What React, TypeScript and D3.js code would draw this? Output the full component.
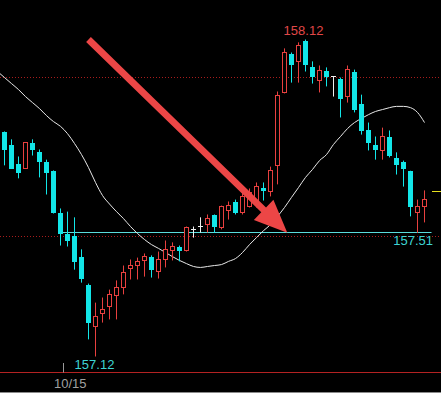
import React, { useEffect } from "react";
import * as d3 from "d3";

// OHLC series, one entry per bar (left to right)
const opens = [
  157.827, 157.786, 157.726, 157.713, 157.795, 157.764, 157.735, 157.704, 157.574, 157.505,
  157.499, 157.435, 157.347, 157.215, 157.256, 157.278, 157.312, 157.338, 157.398, 157.407,
  157.423, 157.435, 157.388, 157.426, 157.454, 157.467, 157.454, 157.521, 157.530, 157.536,
  157.565, 157.527, 157.581, 157.606, 157.574, 157.593, 157.603, 157.653, 157.641, 157.723,
  157.953, 158.073, 158.051, 158.114, 158.032, 157.991, 158.022, 158.003, 157.994, 157.940,
  158.016, 157.915, 157.836, 157.786, 157.770, 157.814, 157.745, 157.735, 157.704, 157.574,
  157.593,
];
const highs = [
  157.830, 157.805, 157.751, 157.795, 157.805, 157.773, 157.741, 157.707, 157.587, 157.577,
  157.559, 157.458, 157.350, 157.290, 157.306, 157.331, 157.360, 157.407, 157.426, 157.432,
  157.445, 157.439, 157.451, 157.486, 157.480, 157.470, 157.530, 157.530, 157.559, 157.568,
  157.568, 157.596, 157.609, 157.615, 157.637, 157.650, 157.669, 157.669, 157.719, 157.956,
  158.092, 158.079, 158.111, 158.120, 158.051, 158.038, 158.032, 158.003, 158.000, 158.038,
  158.025, 157.946, 157.858, 157.814, 157.842, 157.833, 157.764, 157.738, 157.706, 157.615,
  157.644,
];
const lows = [
  157.723, 157.712, 157.682, 157.713, 157.754, 157.685, 157.631, 157.571, 157.470, 157.467,
  157.394, 157.353, 157.174, 157.120, 157.227, 157.237, 157.237, 157.316, 157.363, 157.363,
  157.372, 157.369, 157.366, 157.401, 157.423, 157.420, 157.451, 157.495, 157.511, 157.511,
  157.511, 157.521, 157.552, 157.568, 157.568, 157.590, 157.590, 157.612, 157.625, 157.663,
  157.950, 157.984, 157.984, 158.019, 157.981, 157.953, 157.972, 157.940, 157.874, 157.921,
  157.890, 157.820, 157.770, 157.741, 157.741, 157.748, 157.694, 157.656, 157.562, 157.510,
  157.543,
];
const closes = [
  157.770, 157.713, 157.700, 157.795, 157.770, 157.732, 157.700, 157.574, 157.505, 157.483,
  157.417, 157.363, 157.227, 157.246, 157.268, 157.316, 157.338, 157.385, 157.407, 157.420,
  157.435, 157.394, 157.426, 157.458, 157.467, 157.454, 157.527, 157.521, 157.530, 157.555,
  157.527, 157.593, 157.596, 157.574, 157.625, 157.637, 157.656, 157.641, 157.707, 157.943,
  158.079, 158.038, 158.101, 158.038, 158.003, 158.022, 158.003, 158.003, 157.931, 158.025,
  157.899, 157.830, 157.792, 157.770, 157.814, 157.751, 157.723, 157.710, 157.593, 157.593,
  157.615,
];

// Moving average, starting one bar before the first visible bar
const maStart = -1;
const maValues = [
  158.019, 158.000, 157.981, 157.962, 157.940, 157.921, 157.902, 157.880, 157.861, 157.846,
  157.823, 157.792, 157.757, 157.716, 157.669, 157.628, 157.601, 157.577, 157.555, 157.530,
  157.508, 157.489, 157.473, 157.461, 157.448, 157.435, 157.423, 157.413, 157.404, 157.401,
  157.404, 157.407, 157.410, 157.420, 157.429, 157.448, 157.473, 157.495, 157.517, 157.536,
  157.562, 157.590, 157.622, 157.653, 157.685, 157.710, 157.738, 157.757, 157.789, 157.814,
  157.839, 157.858, 157.871, 157.883, 157.893, 157.899, 157.905, 157.909, 157.909, 157.905,
  157.890, 157.858,
];

// Reference levels and annotations
const gridLevels = [158.0, 157.5];
const supportLevel = 157.51;
const lastPriceMark = 157.641;
const dateLabels = ["10/15"];
const dateBoundaries = [8.5];
const arrowFrom = { i: 12, p: 158.12 };
const arrowTo = { i: 40.4, p: 157.51 };

const W = 441;
const H = 393;
const UP = "#e8403f";
const DOWN = "#12e6e8";
const DOJI = "#f0f0f0";
const FONT = "'Liberation Sans', Arial, sans-serif";

export default function App() {
  useEffect(() => {
    document.body.style.margin = "0";
    document.body.style.background = "#000";
  }, []);

  const x = d3.scaleLinear().domain([0, 60]).range([4.5, 424.5]);
  const y = d3.scaleLinear().domain([157.12, 158.12]).range([356.5, 39.5]);
  const snap = (v: number) => Math.round(v - 0.5) + 0.5;

  const bars = opens.map((o, i) => ({ i, o, h: highs[i], l: lows[i], c: closes[i] }));

  const hiIdx = d3.maxIndex(highs);
  const loIdx = d3.minIndex(lows);

  const maLine = d3
    .line<number>()
    .x((_, k) => x(k + maStart))
    .y((v) => y(v))
    .curve(d3.curveMonotoneX);

  // arrow geometry in screen space, derived from data endpoints
  const ax0 = x(arrowFrom.i), ay0 = y(arrowFrom.p);
  const ax1 = x(arrowTo.i), ay1 = y(arrowTo.p);
  const len = Math.hypot(ax1 - ax0, ay1 - ay0);
  const ux = (ax1 - ax0) / len, uy = (ay1 - ay0) / len;
  const nx = -uy, ny = ux;
  const headLen = 33, headHalf = 14, shaftHalf = 3.4;
  const bx = ax1 - ux * headLen, by = ay1 - uy * headLen;
  const arrowPts = [
    [ax0 + nx * shaftHalf, ay0 + ny * shaftHalf],
    [bx + nx * shaftHalf, by + ny * shaftHalf],
    [bx + nx * headHalf, by + ny * headHalf],
    [ax1, ay1],
    [bx - nx * headHalf, by - ny * headHalf],
    [bx - nx * shaftHalf, by - ny * shaftHalf],
    [ax0 - nx * shaftHalf, ay0 - ny * shaftHalf],
  ]
    .map((p) => p.join(","))
    .join(" ");

  const axisY = 372.5;

  return (
    <svg
      width={W}
      height={H}
      style={{ position: "fixed", left: 0, top: 0, background: "#000", display: "block" }}
    >
      <rect x={0} y={0} width={W} height={H} fill="#000" />

      {/* round-number grid levels */}
      {gridLevels.map((g) => (
        <line
          key={g}
          x1={0}
          x2={W}
          y1={snap(y(g))}
          y2={snap(y(g))}
          stroke="#a81c1c"
          strokeWidth={1}
          strokeDasharray="1 2"
        />
      ))}

      {/* support line */}
      <line
        x1={x(8)}
        x2={x(61)}
        y1={snap(y(supportLevel))}
        y2={snap(y(supportLevel))}
        stroke="#5adcdc"
        strokeWidth={1}
      />

      {/* moving average */}
      <path d={maLine(maValues) || ""} fill="none" stroke="#e8e8e8" strokeWidth={1} />

      {/* candles */}
      {bars.map((b) => {
        const cx = x(b.i);
        const top = y(Math.max(b.o, b.c));
        const bot = y(Math.min(b.o, b.c));
        const wickTop = y(b.h);
        const wickBot = y(b.l);
        if (b.c > b.o) {
          const t = snap(top), bb = snap(bot);
          return (
            <g key={b.i}>
              {wickTop < t && <line x1={cx} x2={cx} y1={wickTop} y2={t} stroke={UP} />}
              {wickBot > bb && <line x1={cx} x2={cx} y1={bb} y2={wickBot} stroke={UP} />}
              <rect x={cx - 2} y={t} width={4} height={Math.max(1, bb - t)} fill="#000" stroke={UP} strokeWidth={1} />
            </g>
          );
        }
        if (b.c < b.o) {
          return (
            <g key={b.i}>
              <line x1={cx} x2={cx} y1={wickTop} y2={wickBot} stroke={DOWN} />
              <rect x={cx - 2.5} y={Math.round(top)} width={5} height={Math.max(1, Math.round(bot) - Math.round(top))} fill={DOWN} />
            </g>
          );
        }
        return (
          <g key={b.i}>
            <line x1={cx} x2={cx} y1={wickTop} y2={wickBot} stroke={DOJI} />
            <line x1={cx - 2.5} x2={cx + 2.5} y1={snap(top)} y2={snap(top)} stroke={DOJI} />
          </g>
        );
      })}

      {/* last price marker */}
      <line x1={x(61) + 0.5} x2={W} y1={snap(y(lastPriceMark))} y2={snap(y(lastPriceMark))} stroke="#e6e01e" strokeWidth={1} />

      {/* annotation arrow */}
      <polygon points={arrowPts} fill="#ec4646" />

      {/* extreme labels */}
      <text x={x(hiIdx) - 2} y={y(highs[hiIdx]) - 5} fill="#e04848" fontSize={13} fontFamily={FONT} textAnchor="middle">
        {highs[hiIdx].toFixed(2)}
      </text>
      <text x={x(loIdx) - 1} y={y(lows[loIdx]) + 12} fill="#3ed4d4" fontSize={13} fontFamily={FONT} textAnchor="middle">
        {lows[loIdx].toFixed(2)}
      </text>
      <text x={433} y={y(supportLevel) + 12} fill="#3ed4d4" fontSize={13} fontFamily={FONT} textAnchor="end">
        {supportLevel.toFixed(2)}
      </text>

      {/* time axis */}
      <line x1={0} x2={W} y1={axisY} y2={axisY} stroke="#b42222" strokeWidth={1} />
      {dateBoundaries.map((d, k) => (
        <g key={d}>
          <line x1={snap(x(d))} x2={snap(x(d))} y1={363} y2={axisY} stroke="#9a9a9a" />
          <text x={x(d) - 10} y={388} fill="#a0a0a0" fontSize={13} fontFamily={FONT}>
            {dateLabels[k]}
          </text>
        </g>
      ))}
      <line x1={0} x2={W} y1={392.5} y2={392.5} stroke="#8a8a8a" />
    </svg>
  );
}
